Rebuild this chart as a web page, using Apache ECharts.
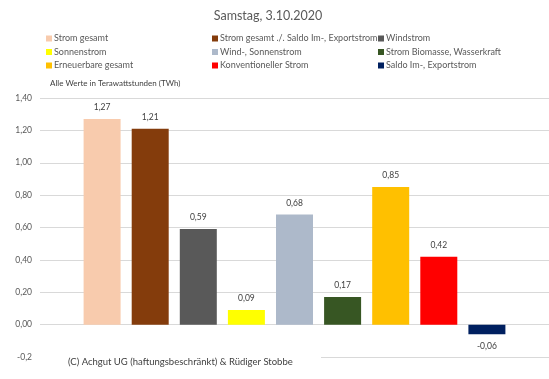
<!DOCTYPE html>
<html><head><meta charset="utf-8">
<script src="https://cdn.jsdelivr.net/npm/echarts@6/dist/echarts.min.js"></script>
<style>html,body{margin:0;padding:0;background:#fff}#c{width:549px;height:379px}</style>
</head><body><div id="c"></div>
<script>
const title = 'Samstag, 3.10.2020';
const seriesNames = ['Strom gesamt','Strom gesamt ./. Saldo Im-, Exportstrom','Windstrom','Sonnenstrom','Wind-, Sonnenstrom','Strom Biomasse, Wasserkraft','Erneuerbare gesamt','Konventioneller Strom','Saldo Im-, Exportstrom'];
const values = [1.27, 1.21, 0.59, 0.09, 0.68, 0.17, 0.85, 0.42, -0.06];
const colors = ['#F8CBAD','#843C0C','#595959','#FFFF00','#ADB9CA','#375623','#FFC000','#FF0000','#002060'];
const categories = [''];
const yTicks = {min: -0.2, max: 1.4, interval: 0.2};

const fmt = v => v.toFixed(2).replace('.', ',');
const font = 'Lato';

const series = seriesNames.map((n, i) => ({
  name: n, type: 'bar', data: [values[i]],
  barWidth: 37, barGap: '30%',
  itemStyle: {color: colors[i]},
  label: {show: true, position: values[i] < 0 ? 'bottom' : 'top', distance: 7,
    formatter: p => fmt(p.value), fontSize: 8.5, color: '#404040', fontFamily: font}
}));

const legends = [0,1,2].map(c => ({
  orient: 'vertical', left: [41,207,373][c], top: 29, itemGap: 4.5,
  itemWidth: 6, itemHeight: 6, icon: 'rect',
  textStyle: {fontSize: 9, color: '#595959', fontFamily: font, padding: [0,0,0,-3]},
  data: [seriesNames[c], seriesNames[c+3], seriesNames[c+6]],
  selectedMode: false
}));

const chart = echarts.init(document.getElementById('c'));
chart.setOption({
  animation: false,
  title: {text: title, left: 263, textAlign: 'center', top: 4,
    textStyle: {fontSize: 12.5, fontWeight: 'normal', color: '#595959', fontFamily: font}},
  legend: legends,
  grid: {left: 40, right: 0, top: 98, bottom: 22},
  xAxis: {type: 'category', data: categories, axisLine: {show: false}, axisTick: {show: false}, axisLabel: {show: false}},
  yAxis: {type: 'value', min: yTicks.min, max: yTicks.max, interval: yTicks.interval,
    axisLabel: {fontSize: 8.5, color: '#595959', fontFamily: font, margin: 8,
      formatter: v => Math.abs(v + 0.2) < 1e-9 ? '-0,2' : fmt(v)},
    splitLine: {lineStyle: {color: '#D9D9D9', width: 1}},
    axisLine: {show: false}, axisTick: {show: false}},
  series: series,
  graphic: [
    {type: 'text', left: 50, top: 79, style: {text: 'Alle Werte in Terawattstunden (TWh)', fontSize: 8, fill: '#404040', fontFamily: font}},
    {type: 'rect', shape: {x: 40, y: 350, width: 281, height: 26}, style: {fill: '#fff'}, z: 100},
    {type: 'text', left: 68, top: 357, z: 101, style: {text: '(C) Achgut UG (haftungsbeschränkt) & Rüdiger Stobbe', fontSize: 9.5, fill: '#404040', fontFamily: font}}
  ]
});
</script></body></html>
